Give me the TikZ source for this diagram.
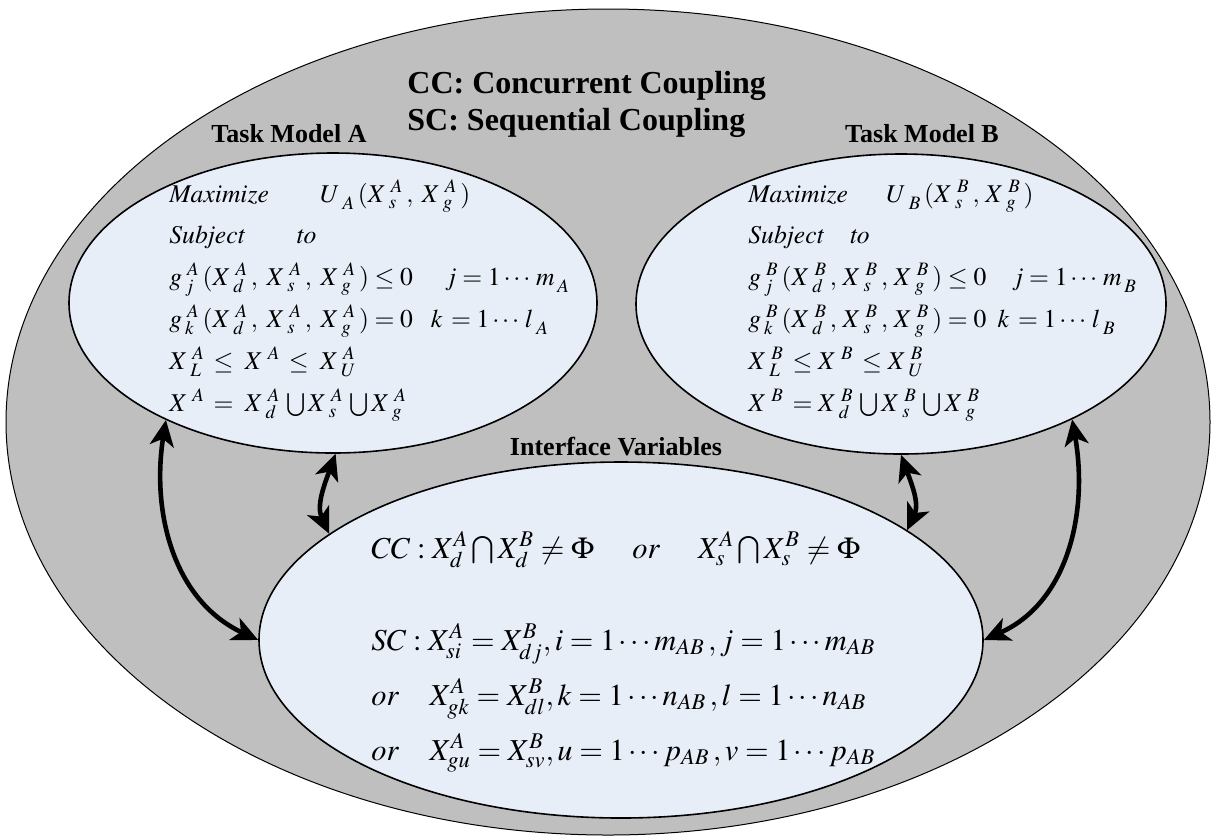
\documentclass[tikz,border=0pt]{standalone}
\usepackage{mathptmx}
\usepackage{fontspec}
\setmainfont{Liberation Serif}
\usetikzlibrary{shapes.geometric, arrows.meta}
\definecolor{outergray}{RGB}{191,191,191}
\definecolor{paleblue}{RGB}{231,238,248}
% biến có chỉ số trên và dưới, giãn cách
\newcommand{\vx}[3]{#1\,{}_{#2}^{\,#3}\,}
\begin{document}
\begin{tikzpicture}[x=0.5pt, y=0.5pt, >={Stealth[length=13pt, width=12pt, inset=3.5pt]}, line join=round, line cap=round,
	blob/.style={ellipse, draw, fill=paleblue, line width=0.8pt, inner sep=0pt},
	heading/.style={anchor=base, inner sep=0pt, font=\bfseries\fontsize{13}{15}\selectfont},
	eqline/.style={anchor=base west, inner sep=0pt, font=\fontsize{12.8}{15}\selectfont},
	link/.style={<->, line width=2.3pt}]
	\useasboundingbox (0,0) rectangle (1215,-837);
	% Vùng ngoài
	\node[ellipse, draw, fill=outergray, line width=0.5pt, inner sep=0pt, minimum width=602pt, minimum height=413pt] (whole) at (608,-422) {};
	% Ba mô hình
	\node[blob, minimum width=264pt, minimum height=150pt] (A) at (333,-303) {};
	\node[blob, minimum width=265pt, minimum height=150pt] (B) at (901,-304) {};
	\node[blob, minimum width=362pt, minimum height=178pt] (I) at (621,-640) {};
	% Tiêu đề
	\node[anchor=base west, inner sep=0pt, font=\bfseries\fontsize{16}{19}\selectfont] (ccnote) at (407,-93) {CC: Concurrent Coupling};
	\node[anchor=base west, inner sep=0pt, font=\bfseries\fontsize{16}{19}\selectfont] (scnote) at (407,-130) {SC: Sequential Coupling};
	\node[heading] (titleA) at (289,-142) {Task Model A};
	\node[heading] (titleB) at (922,-142) {Task Model B};
	\node[heading] (titleI) at (616,-455) {Interface Variables};
	% Bài toán A
	\foreach \y/\eq in {202/{$\mathit{Maximize}\qquad \vx{U}{A}{}(\vx{X}{s}{A},\;\vx{X}{g}{A})$},
		243/{$\mathit{Subject}\qquad \mathit{to}$},
		285/{$\vx{g}{j}{A}(\vx{X}{d}{A},\;\vx{X}{s}{A},\;\vx{X}{g}{A})\le 0\quad\ j=1\cdots\, \vx{m}{A}{}$},
		327/{$\vx{g}{k}{A}(\vx{X}{d}{A},\;\vx{X}{s}{A},\;\vx{X}{g}{A})=0\;\;\ k\,=1\cdots\, \vx{l}{A}{}$},
		369/{$\vx{X}{L}{A}\le\; \vx{X}{}{A}\le\; \vx{X}{U}{A}$},
		411/{$\vx{X}{}{A}=\;\vx{X}{d}{A}\bigcup\vx{X}{s}{A}\bigcup\vx{X}{g}{A}$}}
	\node[eqline] at (169,-\y) {\eq};
	% Bài toán B
	\foreach \y/\eq in {202/{$\mathit{Maximize}\quad\ \ \vx{U}{B}{}(\vx{X}{s}{B},\,\vx{X}{g}{B})$},
		243/{$\mathit{Subject}\quad \mathit{to}$},
		285/{$\vx{g}{j}{B}(\vx{X}{d}{B},\,\vx{X}{s}{B},\,\vx{X}{g}{B})\le 0\quad j=1\cdots\, \vx{m}{B}{}$},
		327/{$\vx{g}{k}{B}(\vx{X}{d}{B},\,\vx{X}{s}{B},\,\vx{X}{g}{B})=0\;\; k\,=1\cdots\, \vx{l}{B}{}$},
		369/{$\vx{X}{L}{B}\le \vx{X}{}{B}\le \vx{X}{U}{B}$},
		411/{$\vx{X}{}{B}=\vx{X}{d}{B}\bigcup\vx{X}{s}{B}\bigcup\vx{X}{g}{B}$}}
	\node[eqline] at (748,-\y) {\eq};
	% Biến giao tiếp
	\foreach \y/\eq in {558/{$CC:X_d^A\bigcap X_d^B\ne\Phi\quad\ \mathit{or}\quad\ X_s^A\bigcap X_s^B\ne\Phi$},
		650/{$SC:X_{si}^A=X_{dj}^B, i=1\cdots m_{AB}\,, j=1\cdots m_{AB}$},
		705/{$\mathit{or}\quad X_{gk}^A=X_{dl}^B, k=1\cdots n_{AB}\,, l=1\cdots n_{AB}$},
		760/{$\mathit{or}\quad X_{gu}^A=X_{sv}^B, u=1\cdots p_{AB}\,, v=1\cdots p_{AB}$}}
	\node[eqline, font=\fontsize{15.2}{18}\selectfont] at (371,-\y) {\eq};
	% Mũi tên hai chiều
	\draw[link] (A.215) to[out=-99, in=155] (I.180);
	\draw[link] (A.271) to[out=-110, in=115] (I.160);
	\draw[link] (B.270) to[out=-70, in=65] (I.21);
	\draw[link] (B.326) to[out=-80, in=24] (I.0);
\end{tikzpicture}
\end{document}
